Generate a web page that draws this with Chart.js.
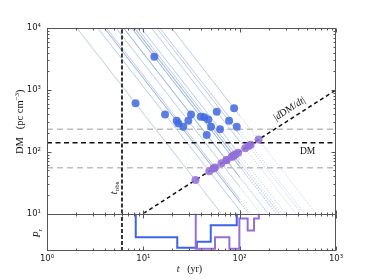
<!DOCTYPE html>
<html>
<head>
<meta charset="utf-8">
<script src="https://cdn.jsdelivr.net/npm/chart.js@4.4.0/dist/chart.umd.min.js"></script>
<style>
html, body { margin: 0; padding: 0; background: #fff; }
</style>
</head>
<body>
<canvas id="dmChart" width="374" height="279"></canvas>
<script>
// blue dots: source age (yr) and DM (pc cm^-3)
var srcAge = [8.3, 13.0, 16.8, 22.2, 23.1, 26.0, 29.3, 31.3, 39.4, 43.0, 47.3, 50.5, 45.5, 57.8, 62.6, 77.6, 87.5, 93.3];
var srcDM = [605, 3430, 401, 316, 287, 253, 316, 401, 367, 359, 333, 253, 186, 442, 230, 316, 502, 253];

// purple dots: where each track meets the |dDM/dt| line (DM = t there)
var crossAge = [34.8, 83.4, 48.4, 53.8, 53.5, 55.5, 64.8, 73.2, 83.0, 87.1, 90.7, 86.3, 72.8, 114, 96.5, 124, 157, 130];

// reference lines
var tObs = 6;
var dmObs = 139;
var dmBand = [230, 55];
var rateLine = [10, 1000];      // DM = t from 10 to 1000 yr
var solidUntil = 100;           // tracks turn dotted after this age

// lower panel P_r step curves (bin edges in yr, levels 0..1)
var blueEdges = [8.34, 22.5, 35.9, 50.1, 93.3];
var blueLevels = [0.37, 0.09, 0.25, 0.69];
var purpleEdges = [35.0, 55.5, 78.2, 99.3, 121, 141, 158];
var purpleLevels = [0.06, 0.37, 0.06, 0.87, 0.55, 0.87];

var sup = ['\u2070', '\u00b9', '\u00b2', '\u00b3', '\u2074'];
var trackColor = 'rgba(140,170,215,0.6)';
var blueColor = 'rgba(65,105,225,0.85)';
var purpleColor = 'rgba(147,112,219,0.85)';

function powLabel(v) {
    var e = Math.log10(v);
    if (Math.abs(e - Math.round(e)) < 1e-9) {
        return '10' + sup[Math.round(e)];
    }
    return '';
}

function stepPoints(edges, levels) {
    var pts = [{x: edges[0], y: 1}];
    for (var i = 0; i < levels.length; i++) {
        pts.push({x: edges[i + 1], y: levels[i]});
    }
    pts.push({x: edges[edges.length - 1], y: 1});
    return pts;
}

var datasets = [];

// tracks DM ~ t^-2 through every blue dot
srcAge.forEach(function(t0, i) {
    var k = srcDM[i] * t0 * t0;
    var tTop = Math.sqrt(k / 1e4);
    var tEnd = Math.sqrt(k / 10);
    var tCut = Math.min(solidUntil, tEnd);
    datasets.push({
        data: [{x: tTop, y: 1e4}, {x: tCut, y: k / (tCut * tCut)}],
        borderColor: trackColor, borderWidth: 1, pointRadius: 0, order: 30, yAxisID: 'y'
    });
    if (tEnd > solidUntil) {
        datasets.push({
            data: [{x: solidUntil, y: k / (solidUntil * solidUntil)}, {x: tEnd, y: 10}],
            borderColor: trackColor, borderWidth: 1, borderDash: [1, 1.5], pointRadius: 0, order: 30, yAxisID: 'y'
        });
    }
});

dmBand.forEach(function(dm) {
    datasets.push({
        data: [{x: 1, y: dm}, {x: 1000, y: dm}],
        borderColor: '#bdbdbd', borderWidth: 1.5, borderDash: [6, 4], pointRadius: 0, order: 25, yAxisID: 'y'
    });
});

datasets.push({
    data: [{x: 1, y: dmObs}, {x: 1000, y: dmObs}],
    borderColor: '#111', borderWidth: 1.5, borderDash: [5, 3.5], pointRadius: 0, order: 20, yAxisID: 'y'
});

datasets.push({
    data: [{x: rateLine[0], y: rateLine[0]}, {x: rateLine[1], y: rateLine[1]}],
    borderColor: '#111', borderWidth: 1.5, borderDash: [4, 3], pointRadius: 0, order: 20, yAxisID: 'y'
});

// t_obs through both panels
datasets.push({
    data: [{x: tObs, y: 10}, {x: tObs, y: 1e4}],
    borderColor: '#333', borderWidth: 2, borderDash: [4, 2], pointRadius: 0, order: 20, yAxisID: 'y'
});
datasets.push({
    data: [{x: tObs, y: 0}, {x: tObs, y: 1}],
    borderColor: '#333', borderWidth: 2, borderDash: [4, 2], pointRadius: 0, order: 20, yAxisID: 'yP'
});

datasets.push({
    type: 'scatter',
    data: srcAge.map(function(t, i) { return {x: t, y: srcDM[i]}; }),
    backgroundColor: blueColor, borderWidth: 0, pointRadius: 4, order: 5, yAxisID: 'y'
});
datasets.push({
    type: 'scatter',
    data: crossAge.map(function(t) { return {x: t, y: t}; }),
    backgroundColor: purpleColor, borderWidth: 0, pointRadius: 4, order: 4, yAxisID: 'y'
});

datasets.push({
    data: stepPoints(blueEdges, blueLevels), stepped: 'after',
    borderColor: 'rgb(60,100,228)', borderWidth: 2, pointRadius: 0, order: 10, yAxisID: 'yP'
});
datasets.push({
    data: stepPoints(purpleEdges, purpleLevels), stepped: 'after',
    borderColor: 'rgb(150,110,220)', borderWidth: 2, pointRadius: 0, order: 9, yAxisID: 'yP'
});

function drawRuns(ctx, runs, x, y, angle) {
    ctx.save();
    ctx.translate(x, y);
    ctx.rotate(angle);
    var w = 0;
    runs.forEach(function(r) { ctx.font = r[1]; w += ctx.measureText(r[0]).width; });
    var cx = -w / 2;
    ctx.textBaseline = 'middle';
    ctx.textAlign = 'left';
    ctx.fillStyle = '#111';
    runs.forEach(function(r) {
        ctx.font = r[1];
        ctx.fillText(r[0], cx, r[2] || 0);
        cx += ctx.measureText(r[0]).width;
    });
    ctx.restore();
}

function decadeTicks(lo, hi) {
    var out = [];
    for (var e = Math.log10(lo); e < Math.log10(hi); e++) {
        for (var m = 1; m < 10; m++) {
            out.push({v: m * Math.pow(10, e), major: m === 1});
        }
    }
    out.push({v: hi, major: true});
    return out;
}

var frameAndText = {
    id: 'frameAndText',
    afterDatasetsDraw: function(chart) {
        var ctx = chart.ctx;
        var a = chart.chartArea;
        var xs = chart.scales.x, ys = chart.scales.y, yp = chart.scales.yP;
        var sep = Math.round(ys.getPixelForValue(10)) + 0.5;
        var L = Math.round(a.left) + 0.5, R = Math.round(a.right) - 0.5;
        var T = Math.round(a.top) + 0.5, B = Math.round(a.bottom) - 0.5;

        ctx.save();
        ctx.strokeStyle = '#555';
        ctx.lineWidth = 1;
        ctx.strokeRect(L, T, R - L, B - T);
        ctx.beginPath();
        ctx.moveTo(L, sep); ctx.lineTo(R, sep);

        decadeTicks(1, 1000).forEach(function(tk) {
            var px = Math.round(xs.getPixelForValue(tk.v)) + 0.5;
            var len = tk.major ? 4 : 2;
            ctx.moveTo(px, T); ctx.lineTo(px, T + len);
            ctx.moveTo(px, sep); ctx.lineTo(px, sep - len);
            ctx.moveTo(px, sep); ctx.lineTo(px, sep + len);
            ctx.moveTo(px, B); ctx.lineTo(px, B - len);
        });
        decadeTicks(10, 10000).forEach(function(tk) {
            var py = Math.round(ys.getPixelForValue(tk.v)) + 0.5;
            var len = tk.major ? 4 : 2;
            ctx.moveTo(L, py); ctx.lineTo(L + len, py);
            ctx.moveTo(R, py); ctx.lineTo(R - len, py);
        });
        ctx.stroke();
        ctx.restore();

        var serif = '"Liberation Serif", "DejaVu Serif", serif';
        var f = function(size, style) { return (style || '') + ' ' + size + 'px ' + serif; };

        // |dDM/dt| along the dashed line
        var x1 = xs.getPixelForValue(100), y1 = ys.getPixelForValue(100);
        var x2 = xs.getPixelForValue(1000), y2 = ys.getPixelForValue(1000);
        var ang = Math.atan2(y2 - y1, x2 - x1);
        var lx = xs.getPixelForValue(370), ly = ys.getPixelForValue(370);
        drawRuns(chart.ctx, [
            ['|', f(10)], ['d', f(10, 'italic')], ['DM/', f(10)], ['d', f(10, 'italic')], ['t', f(10, 'italic')], ['|', f(10)]
        ], lx + 9 * Math.sin(ang), ly - 9 * Math.cos(ang), ang);

        drawRuns(chart.ctx, [['DM', f(9.5)]], xs.getPixelForValue(507), ys.getPixelForValue(dmObs) + 9, 0);

        drawRuns(chart.ctx, [['t', f(10, 'italic')], ['obs', f(7), 3]],
            xs.getPixelForValue(tObs) - 8, ys.getPixelForValue(26), -Math.PI / 2);

        drawRuns(chart.ctx, [['P', f(10, 'italic')], ['r', f(7), 3]],
            37, (yp.top + yp.bottom) / 2 + 1, -Math.PI / 2);

        drawRuns(chart.ctx, [['DM   (pc cm', f(10.5)], ['\u22123', f(7), -3], [')', f(10.5)]],
            20, (ys.top + ys.bottom) / 2 + 1, -Math.PI / 2);

        drawRuns(chart.ctx, [['t', f(10, 'italic')], ['   (yr)', f(10)]],
            (a.left + a.right) / 2 - 2, 269, 0);
    }
};

var tickFont = {family: 'DejaVu Sans', size: 8.5};

var config = {
    type: 'line',
    data: {datasets: datasets},
    options: {
        responsive: false,
        animation: false,
        layout: {padding: {top: 28, right: 38, left: 0, bottom: 0}},
        plugins: {legend: {display: false}, tooltip: {enabled: false}},
        elements: {line: {tension: 0}},
        scales: {
            x: {
                type: 'logarithmic', min: 1, max: 1000, position: 'bottom',
                grid: {display: false, drawTicks: false}, border: {display: false},
                ticks: {autoSkip: false, maxRotation: 0, padding: 3, font: tickFont, color: '#222', callback: powLabel},
                afterFit: function(s) { s.height = 28; }
            },
            yP: {
                type: 'linear', min: 0, max: 1, position: 'left', stack: 'panels', stackWeight: 37.4,
                grid: {display: false, drawTicks: false}, border: {display: false},
                ticks: {display: false},
                afterFit: function(s) { s.width = 47; }
            },
            y: {
                type: 'logarithmic', min: 10, max: 10000, position: 'left', stack: 'panels', stackWeight: 185.3,
                grid: {display: false, drawTicks: false}, border: {display: false},
                ticks: {autoSkip: false, padding: 6, font: tickFont, color: '#222', callback: powLabel},
                afterFit: function(s) { s.width = 47; }
            }
        }
    },
    plugins: [frameAndText]
};

var ctx = document.getElementById('dmChart').getContext('2d');
window.dmChart = new Chart(ctx, config);
</script>
</body>
</html>
